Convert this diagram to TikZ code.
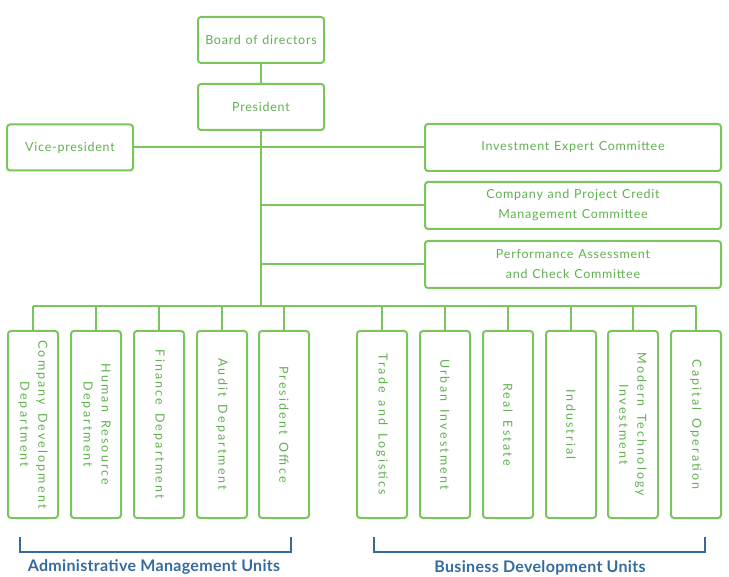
\documentclass[tikz,border=0pt]{standalone}
\usepackage{fontspec}
\setmainfont{Lato}
\newfontfamily\boxfont[LetterSpace=6,WordSpace=1.2]{Lato}
\newfontfamily\deptfont[LetterSpace=17,WordSpace=1.5]{Lato}
\newfontfamily\unitfont[LetterSpace=2]{Lato}
\usetikzlibrary{positioning}
\definecolor{boxgreen}{RGB}{122,197,92}
\definecolor{textgreen}{RGB}{96,176,80}
\definecolor{unitblue}{RGB}{52,106,158}
\tikzset{
  box/.style={draw=boxgreen,line width=2pt,rounded corners=3pt,text=textgreen,
    align=center,inner sep=0pt,
    font=\boxfont\fontsize{12.5}{20}\selectfont},
  topbox/.style={box,minimum width=126pt,minimum height=46pt},
  combox/.style={box,minimum width=296pt,minimum height=47pt},
  deptbox/.style={box,rotate=-90,minimum width=187pt,minimum height=50pt,
    font=\deptfont\fontsize{12.5}{18}\selectfont},
  link/.style={draw=boxgreen,line width=2pt},
  bracket/.style={draw=unitblue,line width=2pt},
  unitlabel/.style={text=unitblue,font=\unitfont\bfseries\fontsize{16}{18}\selectfont}
}
\begin{document}
\begin{tikzpicture}[x=1pt,y=-1pt]
        \useasboundingbox (0,0) rectangle (729,577);

        % top of the chart
        \node[topbox] (board) at (261,40) {Board of directors};
        \node[topbox,below=19pt of board] (pres) {President};
        \node[topbox] (vice) at (70,147.5) {Vice-president};

        % committees
        \node[combox] (iec) at (573,147.5) {Investment Expert Committee};
        \node[combox] (cpc) at (573,205.5) {Company and Project Credit\\Management Committee};
        \node[combox] (pac) at (573,264.5) {Performance Assessment\\and Check Committee};

        % departments
        \node[deptbox] (cdd) at (33,424.5) {Company Development\\Department};
        \node[deptbox] (hrd) at (96,424.5) {Human Resource\\Department};
        \node[deptbox] (fin) at (159,424.5) {Finance Department};
        \node[deptbox] (aud) at (222,424.5) {Audit Department};
        \node[deptbox] (pro) at (284,424.5) {President Office};

        \node[deptbox] (trl) at (382,424.5) {Trade and Logistics};
        \node[deptbox] (urb) at (445,424.5) {Urban Investment};
        \node[deptbox] (res) at (508,424.5) {Real Estate};
        \node[deptbox] (ind) at (571,424.5) {Industrial};
        \node[deptbox] (mti) at (633,424.5) {Modern Technology\\Investment};
        \node[deptbox] (cap) at (696,424.5) {Capital Operation};

        \coordinate (bus) at (261,306);

        % lines
        \draw[link] (board) -- (pres);
        \draw[link] (pres.south) -- (bus);
        \draw[link] (vice.east) -- (iec.west);
        \draw[link] (cpc.west) -- (cpc.west -| pres.south);
        \draw[link] (pac.west) -- (pac.west -| pres.south);
        \draw[link] (cdd.west |- bus) -- (cap.west |- bus);
        \draw[link] (cdd.west) -- (cdd.west |- bus);
        \draw[link] (hrd.west) -- (hrd.west |- bus);
        \draw[link] (fin.west) -- (fin.west |- bus);
        \draw[link] (aud.west) -- (aud.west |- bus);
        \draw[link] (pro.west) -- (pro.west |- bus);
        \draw[link] (trl.west) -- (trl.west |- bus);
        \draw[link] (urb.west) -- (urb.west |- bus);
        \draw[link] (res.west) -- (res.west |- bus);
        \draw[link] (ind.west) -- (ind.west |- bus);
        \draw[link] (mti.west) -- (mti.west |- bus);
        \draw[link] (cap.west) -- (cap.west |- bus);

        % unit brackets
        \draw[bracket] (20,537) -- (20,552) -- (291,552) -- (291,537);
        \draw[bracket] (374,537) -- (374,552) -- (705,552) -- (705,537);
        \node[unitlabel] (adm) at (154,567) {Administrative Management Units};
        \node[unitlabel] (bdu) at (540,568) {Business Development Units};
\end{tikzpicture}
\end{document}
